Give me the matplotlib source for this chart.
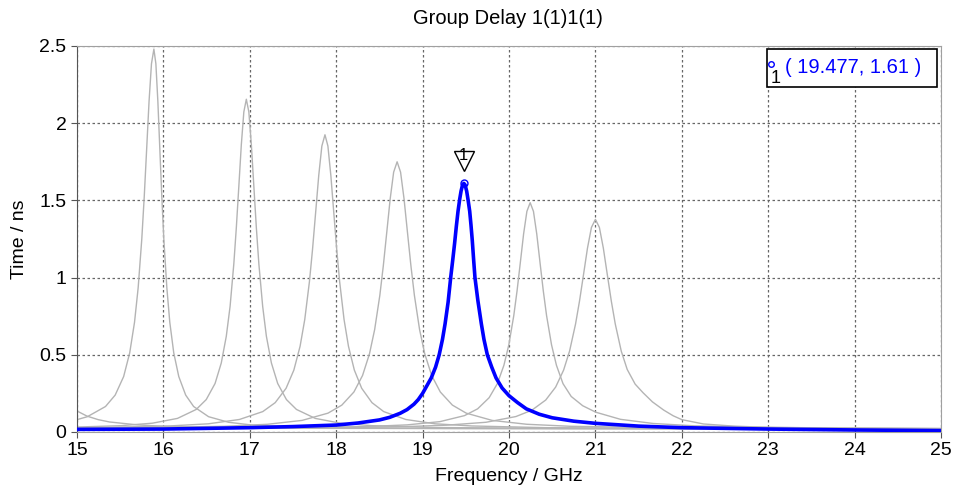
import matplotlib
matplotlib.use("Agg")
import matplotlib.pyplot as plt
from matplotlib.patches import Rectangle
from matplotlib.transforms import offset_copy

# ---- data (GHz, ns) ----
freq_g0 = [15.0, 15.115, 15.245, 15.375, 15.7, 15.96, 16.35, 17.0, 17.65, 19.6, 25.0]
delay_g0 = [0.136, 0.103, 0.080, 0.065, 0.046, 0.038, 0.031, 0.0265, 0.024, 0.022, 0.020]

freq_g1 = [15.0, 15.12, 15.33, 15.442, 15.54, 15.61, 15.666, 15.708, 15.75, 15.778,
           15.806, 15.834, 15.862, 15.89, 15.913, 15.936, 15.959, 15.982, 16.005, 16.04,
           16.074, 16.12, 16.178, 16.258, 16.35, 16.523, 16.753, 17.04, 17.615, 18.765,
           21.64, 25.0]
delay_g1 = [0.080, 0.099, 0.165, 0.239, 0.359, 0.512, 0.711, 0.934, 1.25, 1.520,
            1.829, 2.141, 2.385, 2.48, 2.385, 2.141, 1.829, 1.520, 1.25, 0.934,
            0.711, 0.512, 0.359, 0.239, 0.165, 0.099, 0.063, 0.044, 0.031, 0.024,
            0.021, 0.020]

freq_g2 = [15.0, 15.51, 15.873, 16.163, 16.38, 16.496, 16.598, 16.67, 16.728, 16.772,
           16.815, 16.844, 16.873, 16.902, 16.931, 16.96, 16.989, 17.018, 17.047, 17.076,
           17.105, 17.149, 17.192, 17.25, 17.323, 17.424, 17.54, 17.758, 18.048, 18.41,
           19.135, 20.585, 25.0]
delay_g2 = [0.032, 0.041, 0.057, 0.088, 0.146, 0.210, 0.314, 0.447, 0.620, 0.814,
            1.088, 1.322, 1.590, 1.861, 2.073, 2.155, 2.073, 1.861, 1.590, 1.322,
            1.088, 0.814, 0.620, 0.447, 0.314, 0.210, 0.146, 0.088, 0.057, 0.041,
            0.029, 0.023, 0.021]

freq_g3 = [15.0, 15.17, 16.07, 16.52, 16.88, 17.15, 17.294, 17.42, 17.51, 17.582,
           17.636, 17.69, 17.726, 17.762, 17.798, 17.834, 17.87, 17.904, 17.938, 17.972,
           18.006, 18.04, 18.091, 18.142, 18.21, 18.295, 18.414, 18.55, 18.805, 19.145,
           19.57, 20.42, 22.12, 25.0]
delay_g3 = [0.027, 0.028, 0.039, 0.053, 0.081, 0.132, 0.190, 0.283, 0.401, 0.555,
            0.728, 0.973, 1.182, 1.421, 1.662, 1.852, 1.925, 1.852, 1.662, 1.421,
            1.182, 0.973, 0.728, 0.555, 0.401, 0.283, 0.190, 0.132, 0.081, 0.053,
            0.039, 0.028, 0.023, 0.021]

freq_g4 = [15.0, 15.705, 16.705, 17.205, 17.605, 17.905, 18.065, 18.205, 18.305, 18.385,
           18.445, 18.505, 18.545, 18.585, 18.625, 18.665, 18.705, 18.745, 18.785, 18.825,
           18.865, 18.905, 18.965, 19.025, 19.105, 19.205, 19.345, 19.505, 19.805, 20.205,
           20.705, 21.705, 23.705, 25.0]
delay_g4 = [0.025, 0.028, 0.037, 0.050, 0.075, 0.122, 0.174, 0.259, 0.366, 0.506,
            0.663, 0.885, 1.075, 1.292, 1.511, 1.683, 1.75, 1.683, 1.511, 1.292,
            1.075, 0.885, 0.663, 0.506, 0.366, 0.259, 0.174, 0.122, 0.075, 0.050,
            0.037, 0.028, 0.023, 0.022]

freq_g6 = [15.0, 15.495, 17.395, 18.345, 18.82, 19.2, 19.485, 19.637, 19.77, 19.865,
           19.941, 19.998, 20.055, 20.093, 20.131, 20.169, 20.207, 20.245, 20.283, 20.321,
           20.359, 20.397, 20.435, 20.492, 20.549, 20.625, 20.72, 20.853, 21.005, 21.29,
           21.67, 22.145, 23.095, 25.0]
delay_g6 = [0.022, 0.022, 0.027, 0.035, 0.046, 0.067, 0.106, 0.150, 0.222, 0.313,
            0.432, 0.565, 0.753, 0.913, 1.097, 1.283, 1.429, 1.485, 1.429, 1.283,
            1.097, 0.913, 0.753, 0.565, 0.432, 0.313, 0.230, 0.170, 0.128, 0.082,
            0.055, 0.040, 0.029, 0.022]

freq_g7 = [15.0, 15.25, 17.55, 18.7, 19.275, 19.735, 20.08, 20.264, 20.425, 20.54,
           20.632, 20.701, 20.77, 20.816, 20.862, 20.908, 20.954, 21.0, 21.046, 21.092,
           21.138, 21.184, 21.23, 21.299, 21.368, 21.46, 21.55, 21.66, 21.79, 21.9,
           22.0, 22.25, 22.6, 23.0, 24.0, 25.0]
delay_g7 = [0.022, 0.022, 0.026, 0.033, 0.044, 0.063, 0.100, 0.141, 0.207, 0.291,
            0.401, 0.524, 0.699, 0.848, 1.018, 1.190, 1.325, 1.377, 1.325, 1.190,
            1.018, 0.848, 0.699, 0.524, 0.405, 0.310, 0.255, 0.195, 0.142, 0.105,
            0.080, 0.052, 0.038, 0.030, 0.024, 0.022]

# selected curve 1(1)1(1)
freq_sel = [15.0, 16.0, 17.0, 17.5, 18.0, 18.25, 18.5, 18.62, 18.74, 18.82,
            18.9, 18.95, 19.0, 19.05, 19.1, 19.15, 19.192, 19.23, 19.26, 19.295,
            19.325, 19.35, 19.37, 19.39, 19.41, 19.43, 19.445, 19.462, 19.477, 19.492,
            19.51, 19.527, 19.545, 19.56, 19.575, 19.59, 19.606, 19.64, 19.68, 19.71,
            19.749, 19.8, 19.85, 19.92, 20.0, 20.1, 20.2, 20.35, 20.5, 20.75,
            21.0, 21.5, 22.0, 23.0, 24.0, 25.0]
delay_sel = [0.017, 0.019, 0.028, 0.035, 0.045, 0.058, 0.078, 0.095, 0.121, 0.145,
             0.18, 0.21, 0.25, 0.30, 0.35, 0.42, 0.50, 0.60, 0.70, 0.84,
             1.00, 1.12, 1.22, 1.33, 1.43, 1.51, 1.56, 1.60, 1.61, 1.60,
             1.56, 1.50, 1.43, 1.34, 1.24, 1.12, 1.00, 0.85, 0.70, 0.60,
             0.50, 0.42, 0.35, 0.285, 0.235, 0.19, 0.15, 0.115, 0.092, 0.07,
             0.056, 0.038, 0.028, 0.019, 0.013, 0.009]

MARK_F = 19.477
MARK_T = 1.61
X_TICKS = list(range(15, 26))
Y_TICKS = [0, 0.5, 1, 1.5, 2, 2.5]
Y_LABELS = ["0", "0.5", "1", "1.5", "2", "2.5"]

GRAY = "#b4b4b4"
BLUE = "#0000ff"


def main():
    plt.rcParams["font.family"] = ["Liberation Sans", "DejaVu Sans"]
    fig = plt.figure(figsize=(9.54, 4.95), dpi=100)
    ax = fig.add_axes([0.0807, 0.1273, 0.9057, 0.7798])

    grays = [(freq_g0, delay_g0), (freq_g1, delay_g1), (freq_g2, delay_g2),
             (freq_g3, delay_g3), (freq_g4, delay_g4), (freq_g6, delay_g6),
             (freq_g7, delay_g7)]
    for f, d in grays:
        ax.plot(f, d, color=GRAY, lw=1.0, zorder=2)
    ax.plot(freq_sel, delay_sel, color=BLUE, lw=2.6, zorder=4)

    # marker 1 on the peak
    ax.plot([MARK_F], [MARK_T], "o", ms=5, mfc="none", mec=BLUE, mew=1.0, zorder=5)
    tri = offset_copy(ax.transData, fig=fig, x=0, y=16, units="points")
    ax.plot([MARK_F], [MARK_T], "v", ms=15, mfc="white", mec="black", mew=1.0,
            transform=tri, zorder=6, clip_on=False)
    txt = offset_copy(ax.transData, fig=fig, x=0, y=20, units="points")
    ax.text(MARK_F, MARK_T, "1", transform=txt, ha="center", va="center",
            fontsize=12, color="black", zorder=7)

    # marker readout box
    ax.add_patch(Rectangle((0.7986, 0.8938), 0.1968, 0.0984, transform=ax.transAxes,
                           fc="white", ec="black", lw=1.2, zorder=8))
    ax.plot([0.8032], [0.953], "o", ms=4, mfc="none", mec=BLUE, mew=1.0,
            transform=ax.transAxes, zorder=9)
    ax.text(0.809, 0.915, "1", transform=ax.transAxes, ha="center", va="center",
            fontsize=13, color="black", zorder=9)
    ax.text(0.8194, 0.945, f"( {MARK_F}, {MARK_T} )", transform=ax.transAxes,
            ha="left", va="center", fontsize=14.5, color=BLUE, zorder=9)

    ax.set_xlim(15, 25)
    ax.set_ylim(0, 2.5)
    ax.set_xticks(X_TICKS)
    ax.set_yticks(Y_TICKS)
    ax.set_yticklabels(Y_LABELS)
    ax.tick_params(labelsize=14, length=4, color="#555555")
    ax.grid(True, linestyle=(0, (2, 2)), color="#666666", lw=0.9)
    ax.set_axisbelow(True)
    for side in ("top", "right", "bottom"):
        ax.spines[side].set_color("#a0a0a0")
    ax.spines["left"].set_color("#555555")

    ax.set_xlabel("Frequency / GHz", fontsize=14, labelpad=6)
    ax.set_ylabel("Time / ns", fontsize=14, labelpad=8)
    fig.text(0.532, 0.962, "Group Delay 1(1)1(1)", ha="center", va="center", fontsize=14.5)

    fig.savefig("out.png", dpi=100)
    plt.close(fig)


if __name__ == "__main__":
    main()
